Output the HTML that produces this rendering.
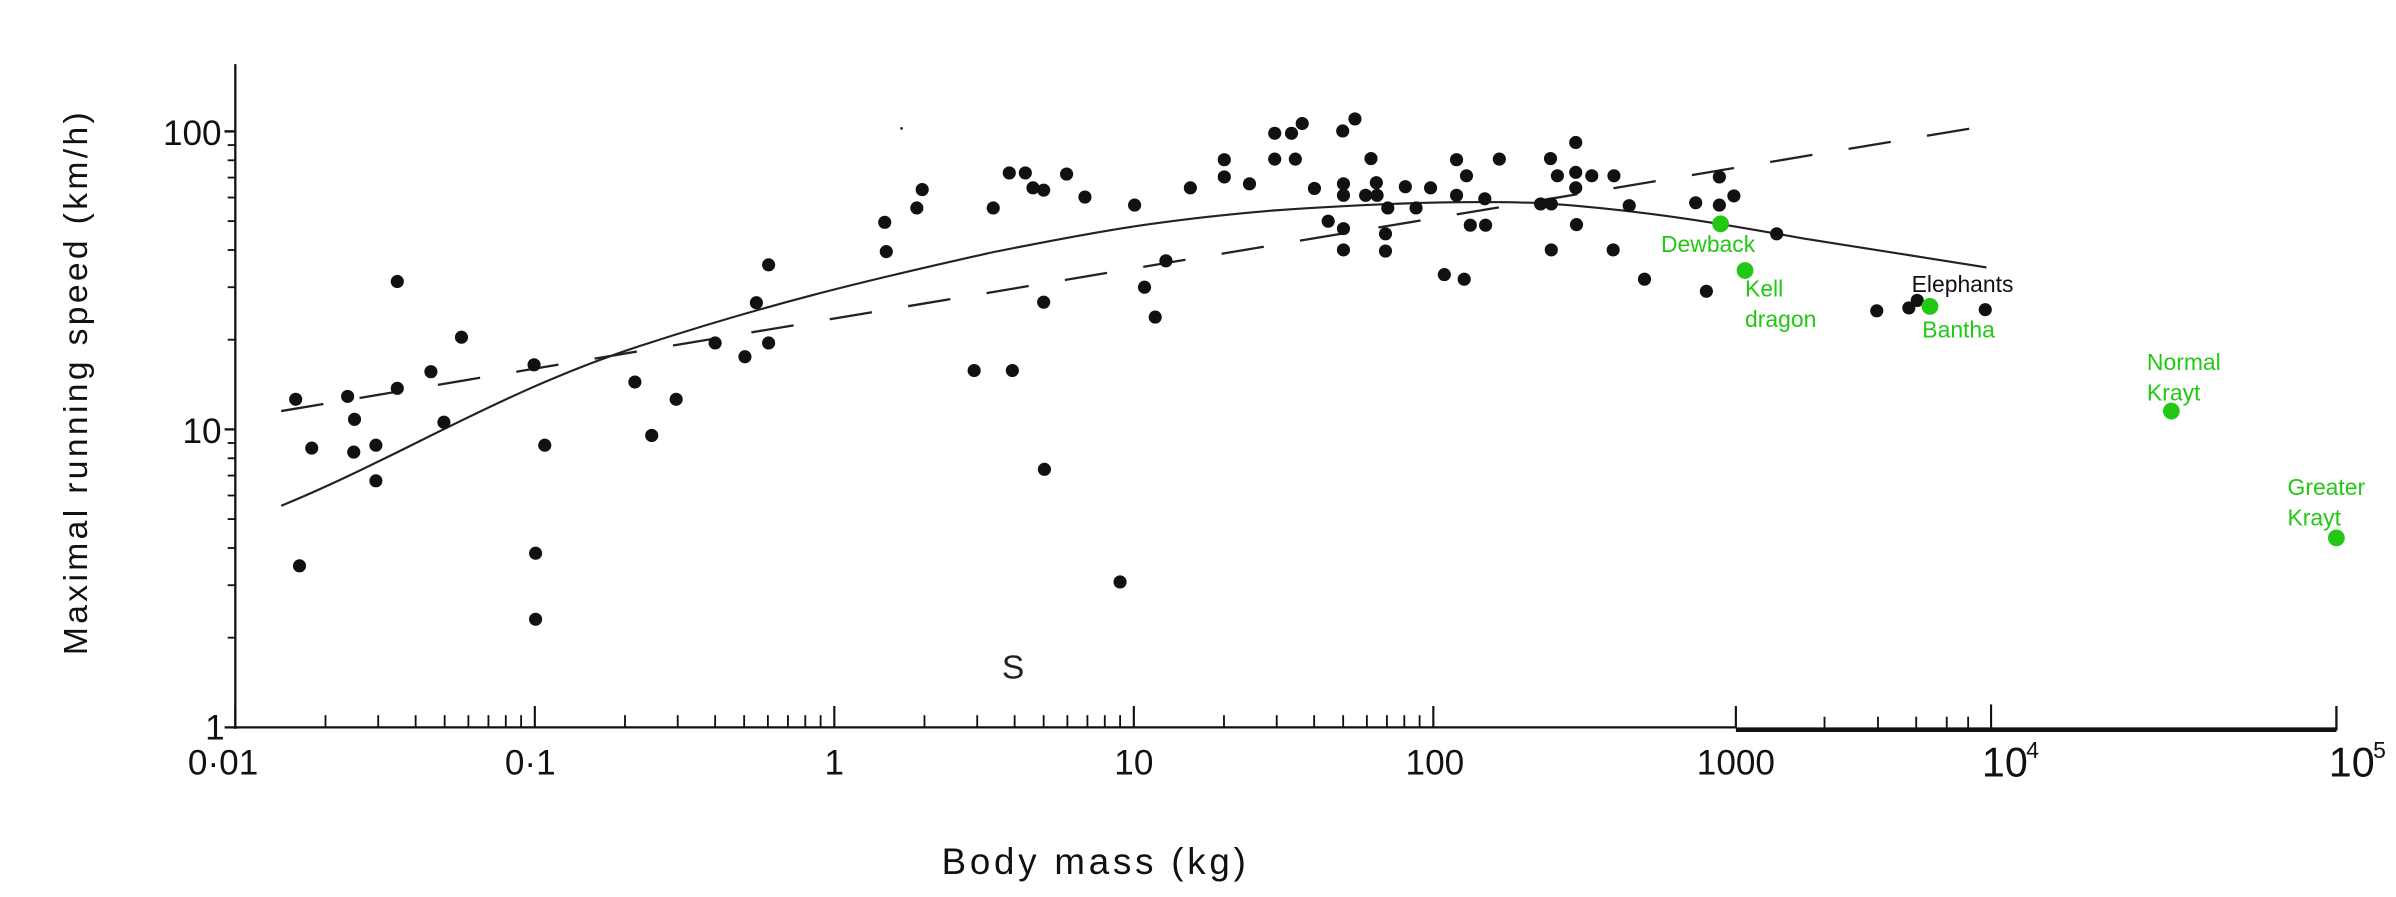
<!DOCTYPE html>
<html><head><meta charset="utf-8"><style>
html,body{margin:0;padding:0;background:#fff;width:2396px;height:897px;overflow:hidden}
svg{display:block}
text{font-family:"Liberation Sans","DejaVu Sans",sans-serif}
</style></head><body>
<svg id="s" width="2396" height="897" viewBox="0 0 1568 587" preserveAspectRatio="none" xmlns="http://www.w3.org/2000/svg">
<g id="g" stroke="#111" fill="none"></g>
<path d="M184,331 C260,300 330,255 420,226 C500,200 560,185 650,165 C720,151 760,144 830,138 C900,133 960,131 1010,133 C1080,138 1130,147 1180,156 C1230,164 1270,170 1300,175" stroke="#222" stroke-width="1.4" fill="none"/>
<line x1="184" y1="269" x2="1296" y2="83" stroke="#222" stroke-width="1.5" stroke-dasharray="28,24"/>
<circle cx="590" cy="84" r="0.9" fill="#222"/>
<text x="663" y="444" font-size="22" text-anchor="middle" fill="#222">S</text>
<g font-size="23" fill="#111">
<text x="145" y="95" text-anchor="end">100</text>
<text x="145" y="290" text-anchor="end">10</text>
<text x="147" y="484" text-anchor="end">1</text>
<text x="146" y="507" text-anchor="middle">0·01</text>
<text x="347" y="507" text-anchor="middle">0·1</text>
<text x="546" y="507" text-anchor="middle">1</text>
<text x="742" y="507" text-anchor="middle">10</text>
<text x="939" y="507" text-anchor="middle">100</text>
<text x="1136" y="507" text-anchor="middle">1000</text>
<text x="1297" y="508" font-size="27">10</text><text x="1326" y="496" font-size="15">4</text>
<text x="1524" y="508" font-size="27">10</text><text x="1553" y="496" font-size="15">5</text>
<text x="717" y="572" text-anchor="middle" font-size="24" letter-spacing="2.5">Body mass (kg)</text>
<text transform="translate(57,250) rotate(-90)" text-anchor="middle" font-size="22" letter-spacing="2.2">Maximal running speed (km/h)</text>
</g>
<g id="d" fill="#111"></g>
<g fill="#22c814">
<circle cx="1126" cy="146.5" r="5.5"/><circle cx="1142" cy="177" r="5.5"/><circle cx="1263" cy="200.5" r="5.5"/><circle cx="1421" cy="269" r="5.5"/><circle cx="1529" cy="352" r="5.5"/>
</g>
<g font-size="15" fill="#22c814">
<text x="1087" y="165">Dewback</text>
<text x="1142" y="194">Kell</text><text x="1142" y="214">dragon</text>
<text x="1258" y="221">Bantha</text>
<text x="1405" y="242">Normal</text><text x="1405" y="262">Krayt</text>
<text x="1497" y="324">Greater</text><text x="1497" y="344">Krayt</text>
</g>
<text x="1251" y="191" font-size="15" fill="#111">Elephants</text>
</svg>
<script>
var NS="http://www.w3.org/2000/svg",g=document.getElementById('g'),d=document.getElementById('d');
function L(x1,y1,x2,y2,w){var l=document.createElementNS(NS,'line');l.setAttribute('x1',x1);l.setAttribute('y1',y1);l.setAttribute('x2',x2);l.setAttribute('y2',y2);l.setAttribute('stroke-width',w||1.3);g.appendChild(l);}
L(154,42,154,477,1.5);L(154,476,1136,476,1.5);L(1136,477.5,1529,477.5,3);
for(var k=0;k<3;k++){var base=476-195*k;L(147,base,154,base,1.5);if(k==2)continue;for(var i=2;i<10;i++){var y=base-195*Math.log10(i);L(149,y,154,y,1.2);}}
L(147,86,154,86,1.5);
for(var k=0;k<5;k++){var x0=154+196*k;L(x0,476,x0,462,1.4);if(k==4)continue;for(var i=2;i<10;i++){var x=x0+196*Math.log10(i);L(x,476,x,468,1.2);}}
L(1136,476,1136,462,1.4);
[1194,1229,1254,1274,1288].forEach(function(x){L(x,477,x,469,1.2)});
L(1303,477,1303,461,1.4);L(1529,478,1529,462,1.5);
var z1=[[387,695],[408,780],[392,985],[455,690],[464,730],[463,787],[492,775],[492,837],[520,490],[520,676],[564,647],[581,735],[604,587],[699,635],[713,775],[701,963],[701,1078],[831,665],[853,758],[885,695],[936,597],[975,621],[990,527],[1006,461],[1006,597],[1158,387],[1160,438],[1200,362],[1207,330],[1275,645],[1300,362],[1321,301],[1325,645],[1342,301],[1352,327],[1366,331],[1366,526],[1367,817],[1396,303],[1420,343],[1466,1013],[1485,357],[1498,500],[1512,552],[1526,454],[1558,327]];
var z2=[[37,278],[37,308],[70,320],[103,232],[103,277],[125,232],[130,277],[139,215],[155,328],[173,385],[192,228],[193,320],[193,340],[193,398],[193,435],[208,207],[222,340],[229,276],[236,318],[237,340],[248,407],[248,437],[251,362],[274,325],[288,362],[307,327],[325,478],[341,278],[341,340],[351,486],[354,306],[359,392],[378,346],[379,392],[397,277],[451,355],[464,276],[465,355],[465,435],[473,306],[497,248],[497,300],[497,327],[498,391],[518,306],[547,306],[546,435],[567,358],[587,486],[654,353],[668,507],[685,308],[685,357],[704,341],[760,407],[891,541],[933,536],[944,523],[1033,539]];
function C(x,y){var c=document.createElementNS(NS,'circle');c.setAttribute('cx',x);c.setAttribute('cy',y);c.setAttribute('r',4.3);d.appendChild(c);}
z1.forEach(function(p){C(p[0]/2,p[1]/2.66)});
z2.forEach(function(p){C(p[0]*0.5+782.7,p[1]/2.66)});
</script>
</body></html>
